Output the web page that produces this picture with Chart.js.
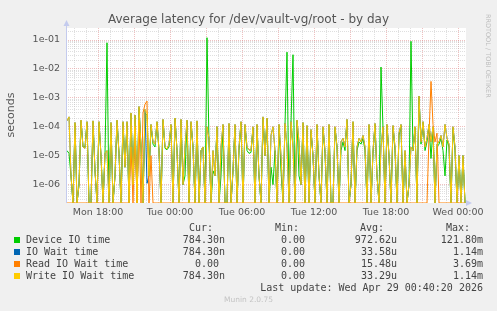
<!DOCTYPE html>
<html>
<head>
<meta charset="utf-8">
<script src="https://cdn.jsdelivr.net/npm/chart.js@4.4.1/dist/chart.umd.min.js"></script>
<style>
  html, body { margin: 0; padding: 0; background: #f0f0f0; }
  #wrap { position: relative; width: 497px; height: 311px; overflow: hidden; background: #f0f0f0; }
  #c { position: absolute; left: 0; top: 0; }
  .t { position: absolute; white-space: pre; font-family: "DejaVu Sans", sans-serif; color: #555; }
  .m { position: absolute; white-space: pre; font-family: "DejaVu Sans Mono", monospace; font-size: 10px; line-height: 12px; color: #444; }
  .sq { position: absolute; width: 6px; height: 6px; }
</style>
</head>
<body>
<div id="wrap">
  <canvas id="c" width="497" height="311"></canvas>
  <div class="t" id="title" style="left:0;width:497px;text-align:center;top:12px;font-size:12px;line-height:15px;">Average latency for /dev/vault-vg/root - by day</div>
  <div class="t" style="left:-19px;top:108px;width:60px;text-align:center;font-size:11px;line-height:14px;transform:rotate(-90deg);">seconds</div>
  <div class="t" style="left:484px;top:14px;font-size:6.5px;line-height:8px;color:#bdbdbd;writing-mode:vertical-rl;">RRDTOOL / TOBI OETIKER</div>
  <div id="legend"></div>
</div>
<script>
// ---- data (sampled every 10 minutes, starting Mon 15:25) ----
const startHour = 15 + 25 / 60;
const stepHours = 10 / 60;

const deviceIO = [
  1.5e-5, 1.2e-5, 2e-6, 0, 1.3e-4, 0, 1e-6, 1.6e-4, 2e-5, 2e-5, 1.4e-4, 0, 0, 1.5e-4, 3e-6, 0, 1.4e-4, 1e-5, 0, 1.2e-5,
  0.08, 0, 1.3e-4, 0, 2e-6, 1.6e-4, 1.2e-5, 0, 1.4e-4, 4e-6, 1.4e-4, 0, 2.8e-4, 1e-6, 2.4e-4, 0, 4.5e-4, 2e-5, 0, 3e-4,
  2.5e-4, 2e-6, 1.1e-4, 2.5e-5, 2e-5, 1.4e-4, 1.5e-5, 0, 1.7e-4, 1.8e-5, 1.6e-5, 2e-5, 1.1e-4, 0, 1.9e-4, 1.5e-5, 0, 1.7e-4, 1e-6, 2e-6,
  1.6e-4, 0, 1.4e-4, 2e-5, 0, 1.5e-4, 0, 1.5e-5, 2e-5, 0, 0.12, 3e-5, 0, 3e-6, 2e-6, 1e-4, 0, 2e-6, 1.1e-4, 0,
  0, 1.2e-4, 0, 3e-6, 1.1e-4, 0, 1.5e-5, 1.4e-4, 0, 1.1e-4, 1.5e-5, 1.2e-5, 1.3e-5, 9e-5, 0, 1.1e-4, 2e-6, 0, 2e-4, 1e-5,
  1.9e-4, 0, 4e-6, 1e-6, 1.5e-5, 0, 1.1e-4, 3e-6, 0, 1.2e-4, 0.038, 0, 1.4e-4, 0.031, 0, 1.6e-4, 2e-6, 1e-6, 1.3e-4, 0,
  1e-4, 0, 7e-5, 1e-5, 0, 1.1e-4, 2e-6, 0, 9e-5, 1.2e-5, 0, 1.1e-4, 0, 0, 9e-5, 2e-5, 0, 1.5e-5, 3e-5, 1.5e-5,
  1.7e-4, 0, 1e-6, 1.4e-4, 0, 1.5e-5, 3e-5, 2.5e-5, 4e-5, 1.5e-5, 0, 1.1e-4, 0, 1.2e-5, 1.2e-4, 2e-6, 0, 0.0116, 9e-5, 0,
  1.1e-4, 1e-5, 0, 1e-4, 1.5e-5, 0, 5e-5, 1.1e-4, 0, 1.2e-5, 0, 1e-6, 0.09, 1.5e-5, 9e-5, 0, 1.1e-3, 2.5e-5, 1.4e-4, 1.5e-5,
  3e-5, 1.1e-4, 8e-6, 9e-5, 0, 2e-5, 2.5e-5, 4e-5, 1.5e-5, 2e-6, 3.5e-5, 2e-5, 0, 9e-5, 1.5e-5, 0, 1e-5, 0, 1e-5, 0
];

const ioWait = [
  1.6e-4, 2.2e-4, 2e-6, 0, 1.4e-4, 0, 1e-6, 1.7e-4, 2e-5, 1.8e-5, 1.5e-4, 0, 0, 1.6e-4, 3e-6, 0, 1.5e-4, 1e-5, 0, 1.2e-5,
  1.5e-5, 0, 1.4e-4, 0, 2e-6, 1.7e-4, 1.2e-5, 0, 1.5e-4, 4e-6, 1.5e-4, 0, 3e-4, 1e-6, 2.5e-4, 0, 5e-4, 2e-5, 0, 4e-4,
  1.1e-6, 2e-6, 1.2e-4, 3e-5, 2.5e-5, 1.5e-4, 1.5e-5, 0, 1.8e-4, 2e-5, 1.7e-5, 2.5e-5, 1.2e-4, 0, 2e-4, 1.5e-5, 0, 1.8e-4, 1e-6, 2e-5,
  1.7e-4, 0, 1.5e-4, 2e-5, 0, 1.6e-4, 0, 1.5e-5, 2e-5, 0, 1e-4, 4e-5, 0, 1.5e-5, 2e-6, 1e-4, 0, 2e-5, 1.2e-4, 0,
  0, 1.3e-4, 0, 3e-6, 1.2e-4, 0, 2e-5, 1.5e-4, 0, 1.2e-4, 2e-5, 1.6e-5, 1.5e-5, 1e-4, 0, 1.2e-4, 2e-6, 0, 2.2e-4, 1e-5,
  2e-4, 0, 5e-5, 1e-4, 1.5e-5, 0, 1.2e-4, 1e-5, 0, 1.3e-4, 2e-5, 0, 1.5e-4, 2e-5, 0, 1.7e-4, 3e-5, 1e-6, 1.4e-4, 0,
  1.1e-4, 0, 8e-5, 1e-5, 0, 1.2e-4, 2e-6, 0, 1e-4, 1.5e-5, 0, 1.2e-4, 0, 0, 1e-4, 2e-5, 0, 3e-5, 4e-5, 2e-5,
  1.8e-4, 0, 1e-6, 1.5e-4, 0, 2e-5, 4e-5, 3e-5, 5e-5, 2e-5, 0, 1.2e-4, 0, 1.5e-5, 1.3e-4, 2e-6, 0, 2e-5, 1e-4, 0,
  1.2e-4, 1e-5, 0, 1.1e-4, 2e-5, 0, 6e-5, 1.2e-4, 0, 1.5e-5, 0, 1e-6, 2e-5, 1.5e-5, 1e-4, 0, 1.14e-3, 3e-5, 1.5e-4, 2e-5,
  4e-5, 1.2e-4, 3e-5, 1e-4, 0, 2.5e-5, 3e-5, 5e-5, 2e-5, 1.2e-4, 4e-5, 2.5e-5, 0, 1e-4, 2e-5, 0, 1e-5, 0, 1e-5, 0
];

const readWait = [
  0, 0, 0, 0, 0, 0, 0, 0, 0, 0, 0, 0, 0, 0, 0, 0, 0, 0, 0, 0,
  0, 0, 0, 0, 0, 0, 0, 0, 0, 0, 0, 0, 2e-5, 0, 1e-4, 0, 1.7e-4, 0, 3e-4, 6e-4,
  7.7e-4, 0, 1e-5, 0, 0, 0, 0, 0, 0, 0, 0, 0, 0, 0, 0, 0, 0, 0, 0, 0,
  0, 0, 0, 0, 0, 0, 0, 0, 0, 0, 0, 0, 0, 0, 0, 0, 0, 0, 0, 0,
  0, 0, 0, 0, 0, 0, 0, 0, 0, 0, 0, 0, 0, 0, 0, 0, 0, 0, 0, 0,
  0, 0, 0, 0, 0, 0, 0, 0, 0, 0, 0, 0, 0, 0, 0, 0, 0, 0, 0, 0,
  0, 0, 0, 0, 0, 0, 0, 0, 0, 0, 0, 0, 0, 0, 0, 0, 0, 0, 0, 0,
  0, 0, 0, 0, 0, 0, 0, 0, 0, 0, 0, 0, 0, 0, 0, 0, 0, 0, 0, 0,
  0, 0, 0, 0, 0, 0, 0, 0, 0, 0, 0, 0, 0, 0, 0, 0, 0, 0, 0, 0,
  0, 5e-5, 3.7e-3, 1.2e-4, 3e-5, 6e-5, 0, 0, 0, 0, 0, 0, 0, 0, 0, 0, 0, 0, 0, 0
];

const writeWait = [
  1.6e-4, 2.2e-4, 2e-6, 0, 1.4e-4, 0, 1e-6, 1.7e-4, 2e-5, 1.8e-5, 1.5e-4, 0, 0, 1.6e-4, 3e-6, 0, 1.5e-4, 1e-5, 0, 1.2e-5,
  1.5e-5, 0, 1.4e-4, 0, 2e-6, 1.7e-4, 1.2e-5, 0, 1.5e-4, 4e-6, 1.5e-4, 0, 3e-4, 1e-6, 2.5e-4, 0, 5e-4, 2e-5, 0, 4e-4,
  3e-4, 2e-6, 1.2e-4, 3e-5, 2.5e-5, 1.5e-4, 1.5e-5, 0, 1.8e-4, 2e-5, 1.7e-5, 2.5e-5, 1.2e-4, 0, 2e-4, 1.5e-5, 0, 1.8e-4, 1e-6, 2e-5,
  1.7e-4, 0, 1.5e-4, 2e-5, 0, 1.6e-4, 0, 1.5e-5, 2e-5, 0, 1e-4, 4e-5, 0, 1.5e-5, 2e-6, 1e-4, 0, 2e-5, 1.2e-4, 0,
  0, 1.3e-4, 0, 3e-6, 1.2e-4, 0, 2e-5, 1.5e-4, 0, 1.2e-4, 2e-5, 1.6e-5, 1.5e-5, 1e-4, 0, 1.2e-4, 2e-6, 0, 2.2e-4, 1e-5,
  2e-4, 0, 5e-5, 1e-4, 1.5e-5, 0, 1.2e-4, 1e-5, 0, 1.3e-4, 2e-5, 0, 1.5e-4, 2e-5, 0, 1.7e-4, 3e-5, 1e-6, 1.4e-4, 0,
  1.1e-4, 0, 8e-5, 1e-5, 0, 1.2e-4, 2e-6, 0, 1e-4, 1.5e-5, 0, 1.2e-4, 0, 0, 1e-4, 2e-5, 0, 3e-5, 4e-5, 2e-5,
  1.8e-4, 0, 1e-6, 1.5e-4, 0, 2e-5, 4e-5, 3e-5, 5e-5, 2e-5, 0, 1.2e-4, 0, 1.5e-5, 1.3e-4, 2e-6, 0, 2e-5, 1e-4, 0,
  1.2e-4, 1e-5, 0, 1.1e-4, 2e-5, 0, 6e-5, 1.2e-4, 0, 1.5e-5, 0, 1e-6, 2e-5, 1.5e-5, 1e-4, 0, 1.14e-3, 3e-5, 1.5e-4, 2e-5,
  4e-5, 1.2e-4, 3e-5, 1e-4, 0, 2.5e-5, 3e-5, 5e-5, 2e-5, 1.2e-4, 4e-5, 2.5e-5, 0, 1e-4, 2e-5, 0, 1e-5, 0, 1e-5, 0
];

const seriesNames = ['Device IO time', 'IO Wait time', 'Read IO Wait time', 'Write IO Wait time'];
const seriesColors = ['#00cc00', '#0066b3', '#ff8000', '#ffcc00'];
const statCur = ['784.30n', '784.30n', '0.00 ', '784.30n'];
const statMin = ['0.00', '0.00', '0.00', '0.00'];
const statAvg = ['972.62u', '33.58u', '15.48u', '33.29u'];
const statMax = ['121.80m', '1.14m', '3.69m', '1.14m'];

const xTickHours = [18, 24, 30, 36, 42, 48];
const xTickLabels = ['Mon 18:00', 'Tue 00:00', 'Tue 06:00', 'Tue 12:00', 'Tue 18:00', 'Wed 00:00'];
const yTickValues = [1e-6, 1e-5, 1e-4, 1e-3, 1e-2, 1e-1];
const yTickLabels = ['1e-06', '1e-05', '1e-04', '1e-03', '1e-02', '1e-01'];

const xMin = 15 + 20 / 60, xMax = 48 + 40 / 60;
const yMin = 2.31e-7, yMax = 0.26;

// ---- build ----
// a log axis cannot show 0: like rrdtool, zero samples sit on the axis floor
const times = deviceIO.map((_, i) => startHour + i * stepHours);
const toPts = arr => arr.map((v, i) => ({ x: times[i], y: v > 0 ? v : yMin }));
const allSeries = [deviceIO, ioWait, readWait, writeWait];

const datasets = allSeries.map((arr, k) => ({
  label: seriesNames[k],
  data: toPts(arr),
  borderColor: seriesColors[k],
  borderWidth: 1,
  pointRadius: 0,
  tension: 0,
  fill: false,
  order: 3 - k
}));

const isDecade = v => yTickValues.some(d => Math.abs(v / d - 1) < 1e-6);
const majorGrid = 'rgba(225,140,140,0.55)';
const minorGrid = 'rgba(185,185,185,0.45)';

const frame = {
  id: 'frame',
  beforeDraw(chart) {
    const { ctx, chartArea: a } = chart;
    ctx.save();
    ctx.fillStyle = '#ffffff';
    ctx.fillRect(a.left, a.top, a.right - a.left, a.bottom - a.top);
    ctx.restore();
  },
  afterDraw(chart) {
    const { ctx, chartArea: a } = chart;
    ctx.save();
    ctx.strokeStyle = '#c4cbee';
    ctx.fillStyle = '#c4cbee';
    ctx.lineWidth = 1;
    ctx.beginPath();
    ctx.moveTo(a.left + 0.5, a.bottom);
    ctx.lineTo(a.left + 0.5, a.top - 4);
    ctx.stroke();
    ctx.beginPath();
    ctx.moveTo(a.left - 2.5, a.top - 2);
    ctx.lineTo(a.left + 3.5, a.top - 2);
    ctx.lineTo(a.left + 0.5, a.top - 8);
    ctx.closePath();
    ctx.fill();
    ctx.beginPath();
    ctx.moveTo(a.right, a.bottom - 3);
    ctx.lineTo(a.right, a.bottom + 3);
    ctx.lineTo(a.right + 6, a.bottom);
    ctx.closePath();
    ctx.fill();
    ctx.restore();
  }
};

new Chart(document.getElementById('c'), {
  type: 'line',
  data: { datasets },
  options: {
    responsive: false,
    animation: false,
    devicePixelRatio: 1,
    events: [],
    layout: { padding: { left: 0, top: 28, right: 31, bottom: 90 } },
    plugins: { legend: { display: false }, title: { display: false }, tooltip: { enabled: false } },
    scales: {
      x: {
        type: 'linear',
        min: xMin, max: xMax,
        afterFit: s => { s.height = 18; },
        afterBuildTicks: s => {
          const t = [];
          for (let h = 16; h <= 48; h++) t.push({ value: h });
          s.ticks = t;
        },
        ticks: {
          autoSkip: false, maxRotation: 0, padding: 4,
          color: '#555', font: { family: 'DejaVu Sans', size: 9.5 },
          callback: v => { const i = xTickHours.indexOf(v); return i >= 0 ? xTickLabels[i] : ''; }
        },
        grid: {
          drawTicks: false,
          lineWidth: 1,
          color: c => (c.tick && c.tick.value % 3 === 0) ? majorGrid : minorGrid
        },
        border: { display: false, dash: [1, 1] }
      },
      y: {
        type: 'logarithmic',
        min: yMin, max: yMax,
        afterFit: s => { s.width = 66; },
        afterBuildTicks: s => {
          const t = [];
          for (let e = -7; e <= -1; e++) {
            for (let m = 1; m <= 9; m++) {
              const v = Number(m + 'e' + e);
              if (v >= yMin && v <= yMax) t.push({ value: v });
            }
          }
          s.ticks = t;
        },
        ticks: {
          autoSkip: false, padding: 6,
          color: '#555', font: { family: 'DejaVu Sans', size: 9.5 },
          callback: v => { const i = yTickValues.findIndex(d => Math.abs(v / d - 1) < 1e-6); return i >= 0 ? yTickLabels[i] : ''; }
        },
        grid: {
          drawTicks: false,
          lineWidth: 1,
          color: c => (c.tick && isDecade(c.tick.value)) ? majorGrid : minorGrid
        },
        border: { display: false, dash: [1, 1] }
      }
    }
  },
  plugins: [frame]
});

// ---- legend (HTML text) ----
const lg = document.getElementById('legend');
function addText(cls, txt, right, cy, extra) {
  const d = document.createElement('div');
  d.className = cls;
  d.textContent = txt;
  d.style.right = (497 - right) + 'px';
  d.style.top = (cy - 6) + 'px';
  if (extra) Object.assign(d.style, extra);
  lg.appendChild(d);
}
const header = [['Cur:', 213], ['Min:', 299], ['Avg:', 384], ['Max:', 470]];
header.forEach(([t, r]) => addText('m', t, r, 228));
const rowY = [240, 252, 264, 276];
seriesNames.forEach((name, k) => {
  const sq = document.createElement('div');
  sq.className = 'sq';
  sq.style.left = '14px';
  sq.style.top = (rowY[k] - 3) + 'px';
  sq.style.background = seriesColors[k];
  lg.appendChild(sq);
  const l = document.createElement('div');
  l.className = 'm';
  l.textContent = name;
  l.style.left = '26px';
  l.style.top = (rowY[k] - 6) + 'px';
  lg.appendChild(l);
  addText('m', statCur[k], 225, rowY[k]);
  addText('m', statMin[k], 305, rowY[k]);
  addText('m', statAvg[k], 397, rowY[k]);
  addText('m', statMax[k], 483, rowY[k]);
});
addText('m', 'Last update: Wed Apr 29 00:40:20 2026', 483, 288);
const mu = document.createElement('div');
mu.className = 't';
mu.textContent = 'Munin 2.0.75';
Object.assign(mu.style, { left: '0', width: '497px', textAlign: 'center', top: '295px', fontSize: '7.5px', lineHeight: '9px', color: '#c4c4c4' });
lg.appendChild(mu);
</script>
</body>
</html>
